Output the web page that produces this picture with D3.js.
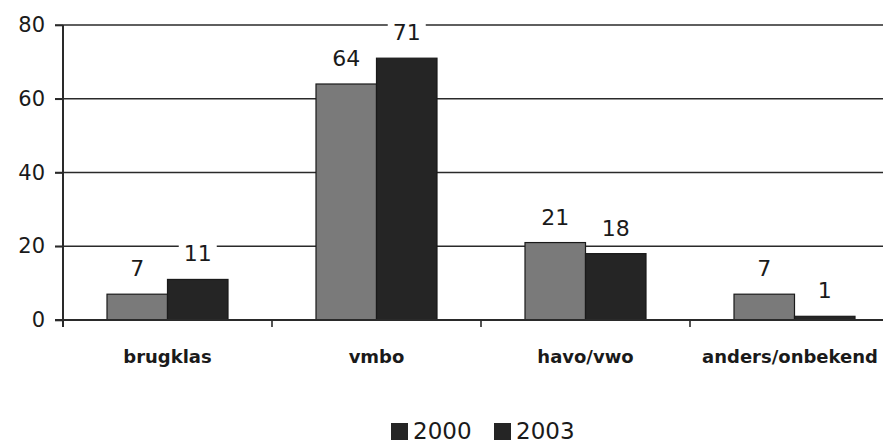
<!DOCTYPE html>
<html><head><meta charset="utf-8">
<script src="https://cdn.jsdelivr.net/npm/d3@7"></script>
<style>body{margin:0;background:#fff}svg{display:block}text{font-family:"DejaVu Sans",sans-serif;fill:#1a1a1a}</style>
</head><body><svg id="c" width="883" height="444"></svg>
<script>
const categories = ["brugklas","vmbo","havo/vwo","anders/onbekend"];
const seriesNames = ["2000","2003"];
const values2000 = [7,64,21,7];
const values2003 = [11,71,18,1];
const yTicks = [0,20,40,60,80];

const colors = {"2000":"#7a7a7a","2003":"#252525"};
const svg = d3.select("#c");
const x0 = 63, y0 = 320, yTop = 25;
const x = d3.scaleBand().domain(categories).range([x0, 899]).padding(0);
const bw = x.bandwidth();
const xs = d3.scaleBand().domain(seriesNames).range([0, bw]).paddingInner(0).paddingOuter((bw/60.5-2)/2);
const y = d3.scaleLinear().domain([0,80]).range([y0, yTop]);

const data = categories.map((c,i)=>({cat:c, vals:[{s:"2000",v:values2000[i]},{s:"2003",v:values2003[i]}]}));

// gridlines
svg.append("g").selectAll("line").data(yTicks.filter(t=>t>0)).join("line")
  .attr("x1", x0-8).attr("x2", 883).attr("y1", d=>y(d)).attr("y2", d=>y(d))
  .attr("stroke", "#2a2a2a").attr("stroke-width", 1.6);

// y axis
const yAxis = d3.axisLeft(y).tickValues(yTicks).tickSize(8).tickPadding(10);
const gy = svg.append("g").attr("transform", `translate(${x0},0)`).call(yAxis);
gy.select(".domain").remove();
gy.selectAll(".tick line").attr("stroke","#2a2a2a").attr("stroke-width",1.6);
gy.selectAll(".tick text").style("font-size","21px").style("font-family","'DejaVu Sans',sans-serif").attr("fill","#1a1a1a");
svg.append("line").attr("x1",x0).attr("x2",x0).attr("y1",yTop).attr("y2",y0+7).attr("stroke","#2a2a2a").attr("stroke-width",2);

// bars
const groups = svg.append("g").selectAll("g").data(data).join("g").attr("transform", d=>`translate(${x(d.cat)},0)`);
groups.selectAll("rect").data(d=>d.vals).join("rect")
  .attr("x", d=>xs(d.s)).attr("width", xs.bandwidth())
  .attr("y", d=>y(d.v)).attr("height", d=>y0-y(d.v))
  .attr("fill", d=>colors[d.s]).attr("stroke","#1a1a1a").attr("stroke-width",1.2);

// value labels with white background
const lab = groups.selectAll("g.lab").data(d=>d.vals).join("g").attr("class","lab");
lab.each(function(d){
  const g = d3.select(this);
  const cx = xs(d.s) + xs.bandwidth()/2;
  const by = y(d.v) - 18;
  const t = g.append("text").attr("x", cx).attr("y", by).attr("text-anchor","middle")
    .style("font-size","22px").text(d.v);
  const bb = t.node().getBBox();
  g.insert("rect","text").attr("x", bb.x-5).attr("y", bb.y).attr("width", bb.width+10).attr("height", bb.height).attr("fill","#fff");
});

// x axis
svg.append("line").attr("x1",x0-8).attr("x2",883).attr("y1",y0).attr("y2",y0).attr("stroke","#2a2a2a").attr("stroke-width",1.8);
const bounds = categories.map(c=>x(c)).concat([x(categories[categories.length-1])+bw]);
svg.append("g").selectAll("line").data(bounds).join("line")
  .attr("x1",d=>d).attr("x2",d=>d).attr("y1",y0).attr("y2",y0+7).attr("stroke","#2a2a2a").attr("stroke-width",1.6);
svg.append("g").selectAll("text").data(categories).join("text")
  .attr("x", d=>Math.min(x(d)+bw/2, 790)).attr("y", 363).attr("text-anchor","middle")
  .style("font-size","18px").style("font-weight","bold").text(d=>d);

// legend
const leg = svg.append("g");
const legX = [391, 494];
seriesNames.forEach((s,i)=>{
  leg.append("rect").attr("x",legX[i]).attr("y",423).attr("width",17).attr("height",17).attr("fill","#252525");
  leg.append("text").attr("x",legX[i]+22).attr("y",439).style("font-size","23px").text(s);
});
</script></body></html>
